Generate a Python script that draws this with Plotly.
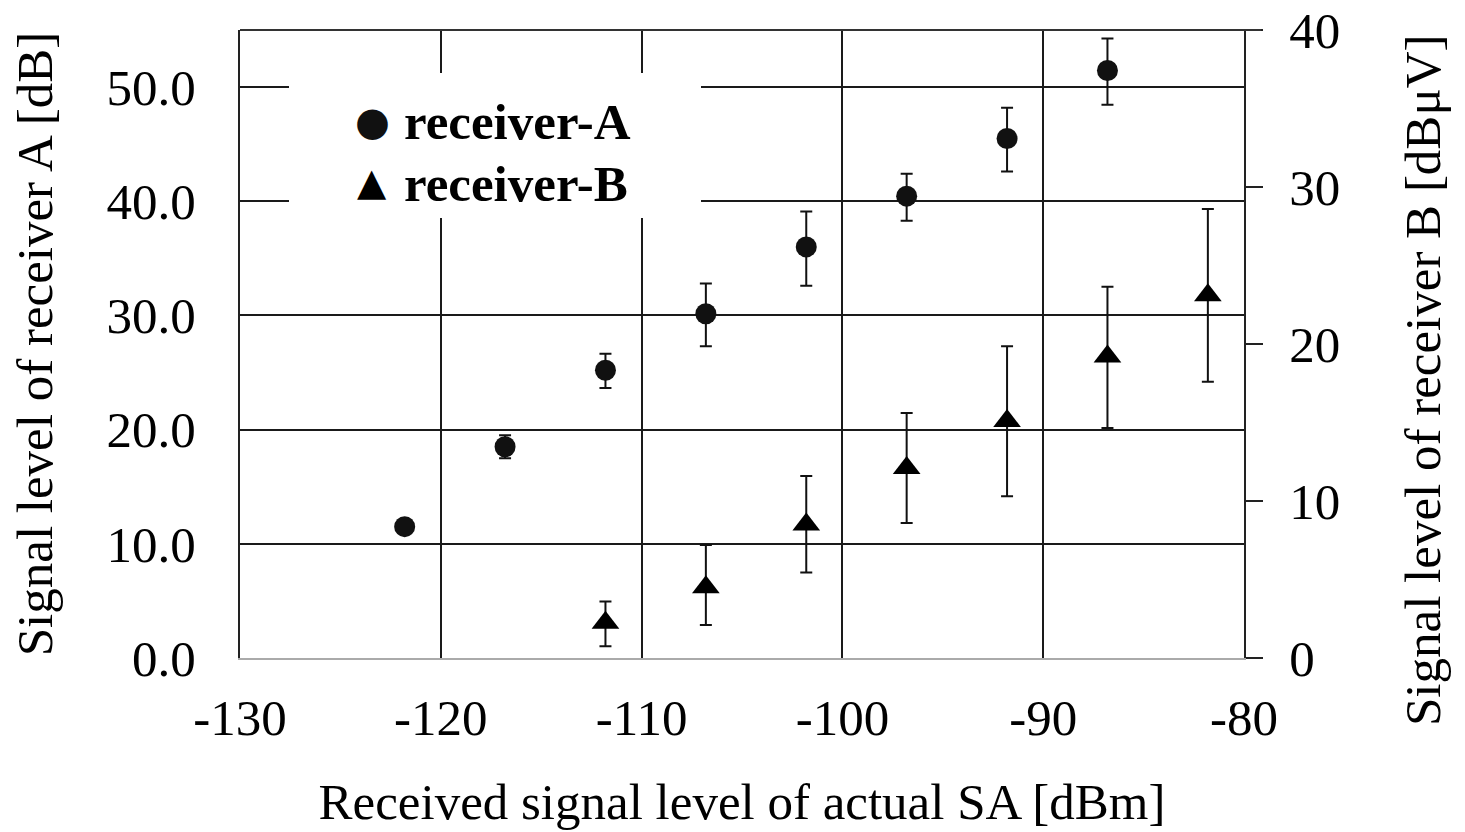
import plotly.graph_objects as go

# ---- data ----
x_A = [-121.8, -116.8, -111.8, -106.8, -101.8, -96.8, -91.8, -86.8]
A_val = [11.5, 18.5, 25.2, 30.15, 36.0, 40.45, 45.5, 51.45]
A_hi = [11.8, 19.5, 26.65, 32.8, 39.1, 42.4, 48.2, 54.25]
A_lo = [11.2, 17.5, 23.65, 27.3, 32.6, 38.3, 42.6, 48.45]

x_B = [-111.8, -106.8, -101.8, -96.8, -91.8, -86.8, -81.8]
B_val = [2.25, 4.5, 8.5, 12.1, 15.1, 19.2, 23.1]
B_hi = [3.6, 7.2, 11.6, 15.6, 19.85, 23.65, 28.6]
B_lo = [0.75, 2.1, 5.45, 8.6, 10.3, 14.65, 17.6]

x_ticks = [-130, -120, -110, -100, -90, -80]
yA_ticks = [0, 10, 20, 30, 40, 50]
yA_ticktext = ["0.0", "10.0", "20.0", "30.0", "40.0", "50.0"]
yB_ticks = [0, 10, 20, 30, 40]

series_names = ["receiver-A", "receiver-B"]

FONT = "Liberation Serif"
FS = 51

A_plus = [h - v for h, v in zip(A_hi, A_val)]
A_minus = [v - l for v, l in zip(A_val, A_lo)]
B_plus = [h - v for h, v in zip(B_hi, B_val)]
B_minus = [v - l for v, l in zip(B_val, B_lo)]

fig = go.Figure()
fig.add_trace(go.Scatter(
    x=x_A, y=A_val, mode="markers", name=series_names[0], showlegend=False,
    marker=dict(symbol="circle", size=21, color="#111111"),
    error_y=dict(type="data", symmetric=False, array=A_plus, arrayminus=A_minus,
                 color="#111111", thickness=2, width=6),
    yaxis="y",
))
fig.add_trace(go.Scatter(
    x=x_B, y=B_val, mode="markers", name=series_names[1], showlegend=False,
    marker=dict(symbol="triangle-up", size=24, color="#000000"),
    error_y=dict(type="data", symmetric=False, array=B_plus, arrayminus=B_minus,
                 color="#111111", thickness=2, width=6),
    yaxis="y2",
))

L, R, T, B = 240, 221, 30, 174
W, H = 1465, 832
pw = W - L - R
ph = H - T - B

def px_to_paper_x(px):
    return (px - L) / pw

def px_to_paper_y(py):
    return (H - B - py) / ph

shapes = [
    # white legend box covering grid lines
    dict(type="rect", xref="paper", yref="paper", layer="above",
         x0=px_to_paper_x(289), x1=px_to_paper_x(701),
         y0=px_to_paper_y(218), y1=px_to_paper_y(73),
         fillcolor="white", line=dict(width=0)),
    # top frame line
    dict(type="line", xref="paper", yref="paper", layer="above",
         x0=0, x1=px_to_paper_x(1261), y0=1, y1=1,
         line=dict(color="#333333", width=2)),
]

annots = [
    # legend drawn as annotations (symbols + bold labels)
    dict(xref="paper", yref="paper", x=px_to_paper_x(372), y=px_to_paper_y(121),
         xanchor="center", yanchor="middle", showarrow=False,
         text="\u25cf", font=dict(family="DejaVu Sans", size=40, color="#111111")),
    dict(xref="paper", yref="paper", x=px_to_paper_x(372), y=px_to_paper_y(182),
         xanchor="center", yanchor="middle", showarrow=False,
         text="\u25b2", font=dict(family="DejaVu Sans", size=38, color="#000000")),
    dict(xref="paper", yref="paper", x=px_to_paper_x(402), y=px_to_paper_y(122),
         xanchor="left", yanchor="middle", showarrow=False,
         text="<b>%s</b>" % series_names[0], font=dict(family=FONT, size=FS, color="black")),
    dict(xref="paper", yref="paper", x=px_to_paper_x(402), y=px_to_paper_y(184),
         xanchor="left", yanchor="middle", showarrow=False,
         text="<b>%s</b>" % series_names[1], font=dict(family=FONT, size=FS, color="black")),
    # right axis title
    dict(xref="paper", yref="paper", x=px_to_paper_x(1423), y=px_to_paper_y(380),
         xanchor="center", yanchor="middle", showarrow=False, textangle=-90,
         text="Signal level of receiver B [dB\u03bcV]",
         font=dict(family=FONT, size=FS, color="black")),
]

fig.update_layout(
    width=W, height=H,
    margin=dict(l=L, r=R, t=T, b=B, pad=0, autoexpand=False),
    paper_bgcolor="white", plot_bgcolor="white",
    font=dict(family=FONT, size=FS, color="black"),
    showlegend=False,
    xaxis=dict(
        range=[-130, -80], tickvals=x_ticks, ticktext=[str(v) for v in x_ticks],
        showgrid=True, gridcolor="#1a1a1a", gridwidth=2,
        showline=True, linecolor="#aaaaaa", linewidth=2,
        ticks="", ticklabelstandoff=14, zeroline=False, automargin=False,
        title=dict(text="Received signal level of actual SA [dBm]",
                   font=dict(family=FONT, size=FS), standoff=38),
    ),
    yaxis=dict(
        range=[0, 55], tickvals=yA_ticks, ticktext=yA_ticktext,
        showgrid=True, gridcolor="#1a1a1a", gridwidth=2,
        showline=True, linecolor="#222222", linewidth=2,
        ticks="", ticklabelstandoff=32, zeroline=False, automargin=False,
        title=dict(text="Signal level of receiver A [dB]",
                   font=dict(family=FONT, size=FS), standoff=38),
    ),
    yaxis2=dict(
        range=[0, 40], tickvals=yB_ticks, ticktext=[str(v) for v in yB_ticks],
        overlaying="y", side="right",
        showgrid=False, zeroline=False, automargin=False,
        showline=True, linecolor="#222222", linewidth=2,
        ticks="outside", ticklen=17, tickwidth=2, tickcolor="#222222",
        ticklabelstandoff=16,
    ),
    shapes=shapes,
    annotations=annots,
)

fig.write_html("out.html")
